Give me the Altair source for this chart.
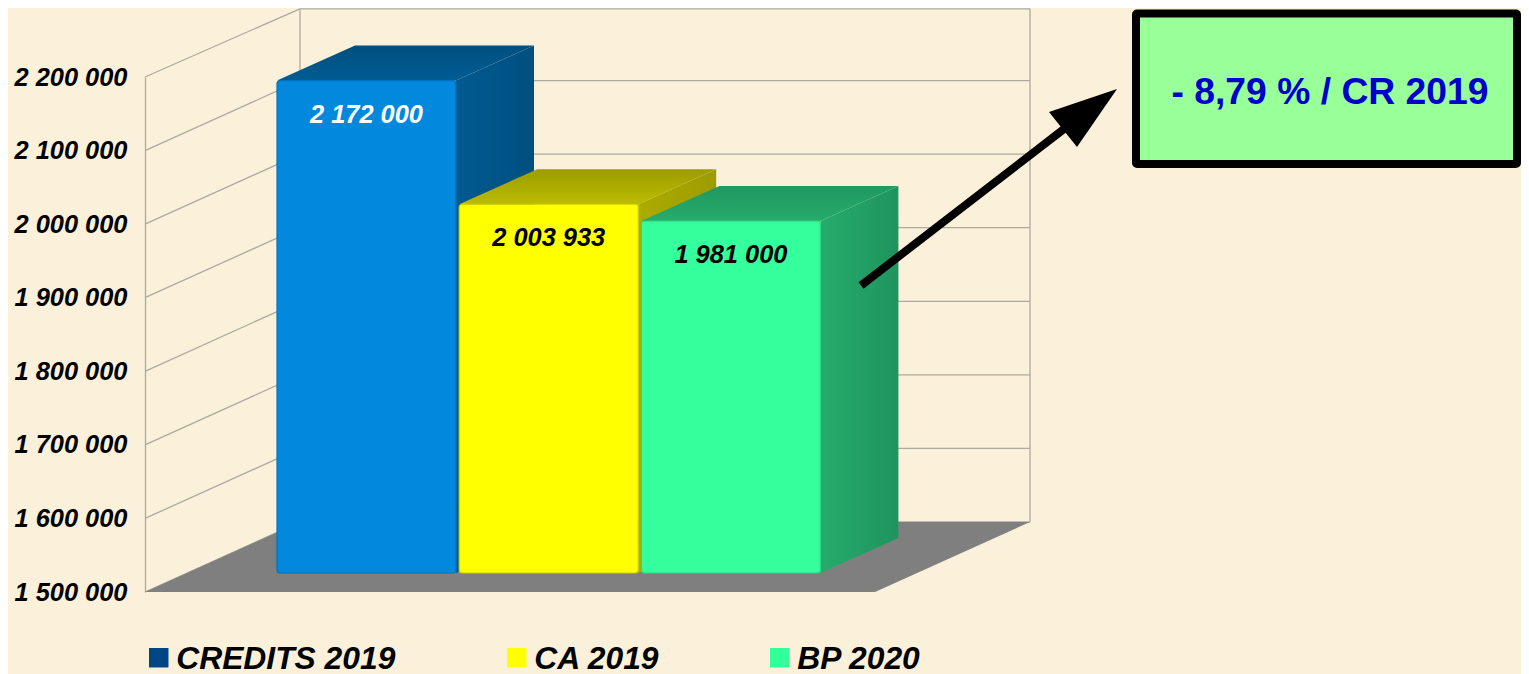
import altair as alt

CATEGORIES = ["CREDITS 2019", "CA 2019", "BP 2020"]
VALUES = [2172000, 2003933, 1981000]
VALUE_LABELS = ["2 172 000", "2 003 933", "1 981 000"]
AXIS_TICKS = [1500000, 1600000, 1700000, 1800000, 1900000, 2000000, 2100000, 2200000]
CALLOUT = "- 8,79 % / CR 2019"

FRONT = ["#0288DC", "#FFFF00", "#35FF9C"]
LEGEND = ["#004586", "#FFFF00", "#33FF99"]
SIDE_A = ["#005A90", "#ABAB00", "#26AC6C"]
SIDE_B = ["#004F80", "#9C9C00", "#1F945E"]
TOP_A = ["#005C93", "#BBBB00", "#26AC6C"]
TOP_B = ["#00507F", "#9C9C00", "#219860"]
EDGE = ["#0272BC", "#D0D000", "#2CD884"]
LABEL_COL = ["#FFFFFF", "#000000", "#000000"]
BG = "#FBF1DA"
GRID = "#ADA9A0"
FONT = "Liberation Sans"

# Geometry is written in picture pixels; the page margin is 8px.
MARGIN = 8
PL, PT, PH = 145, 77, 515
PW = 1529 - MARGIN - PL
VMIN, VMAX = AXIS_TICKS[0], AXIS_TICKS[-1]
K = PH / (VMAX - VMIN)


def v(py):
    return VMIN + (PT + PH - py) / K


def px(val):
    return PT + PH - (val - VMIN) * K


AX = alt.Axis(
    values=AXIS_TICKS,
    title=None,
    grid=False,
    ticks=False,
    domain=True,
    domainColor=GRID,
    domainWidth=1.3,
    labelFont=FONT,
    labelFontSize=25.4,
    labelFontWeight="bold",
    labelFontStyle="italic",
    labelColor="#000000",
    labelPadding=18,
    labelExpr="replace(format(datum.value, ','), regexp(',', 'g'), ' ')",
)
xs = alt.Scale(domain=[PL, PL + PW], nice=False, zero=False)
ys = alt.Scale(domain=[VMIN, VMAX], nice=False, zero=False)
X = alt.X("x:Q", scale=xs, axis=None)
X2 = alt.X2("x2:Q")
Y = alt.Y("y:Q", scale=ys, axis=AX)
Y2 = alt.Y2("y2:Q")


def d(rows):
    return alt.Data(values=rows)


def grad(a, b, horizontal):
    stops = [alt.GradientStop(color=a, offset=0), alt.GradientStop(color=b, offset=1)]
    if horizontal:
        return alt.LinearGradient(gradient="linear", stops=stops, x1=0, x2=1, y1=0, y2=0)
    return alt.LinearGradient(gradient="linear", stops=stops, x1=0, x2=0, y1=1, y2=0)


layers = []

# walls
WALL_DX, WALL_DY = 155, 70
RIGHT = 875
WALL_TOP = MARGIN + 0.8
rules = []
for t in AXIS_TICKS:
    back = max(px(t) - WALL_DY, WALL_TOP)
    rules.append({"x": PL, "x2": PL + WALL_DX, "y": t, "y2": v(back)})
    rules.append({"x": PL + WALL_DX, "x2": RIGHT + WALL_DX, "y": v(back), "y2": v(back)})
rules.append({"x": PL + WALL_DX, "x2": PL + WALL_DX, "y": v(px(VMIN) - WALL_DY), "y2": v(WALL_TOP)})
rules.append({"x": RIGHT + WALL_DX, "x2": RIGHT + WALL_DX, "y": v(px(VMIN) - WALL_DY), "y2": v(WALL_TOP)})
layers.append(alt.Chart(d(rules)).mark_rule(color=GRID, strokeWidth=1.3).encode(x=X, x2=X2, y=Y, y2=Y2))

# floor
layers.append(alt.Chart(d([
    {"y": v(592), "x": PL, "x2": RIGHT},
    {"y": v(592 - WALL_DY), "x": PL + WALL_DX, "x2": RIGHT + WALL_DX},
])).mark_area(orient="horizontal", color="#7F7F7F").encode(x=X, x2=X2, y=Y))

# bars
BAR_W, BAR_GAP, BAR_X0 = 179, 3.2, 277
BASE_PX, TOP_BASE_PX = 573, 575
DEPTH_X, DEPTH_Y = 78, 35
for i, (val, lab) in enumerate(zip(VALUES, VALUE_LABELS)):
    xl = BAR_X0 + i * (BAR_W + BAR_GAP)
    xr = xl + BAR_W
    top = TOP_BASE_PX - (val - VMIN) * K
    side = alt.Chart(d([
        {"x": xr, "y": v(BASE_PX), "y2": v(top)},
        {"x": xr + DEPTH_X, "y": v(BASE_PX - DEPTH_Y), "y2": v(top - DEPTH_Y)},
    ])).mark_area(color=grad(SIDE_A[i], SIDE_B[i], True)).encode(x=X, y=Y, y2=Y2)
    topface = alt.Chart(d([
        {"y": v(top), "x": xl, "x2": xr},
        {"y": v(top - DEPTH_Y), "x": xl + DEPTH_X, "x2": xr + DEPTH_X},
    ])).mark_area(orient="horizontal", color=grad(TOP_A[i], TOP_B[i], False)).encode(x=X, x2=X2, y=Y)
    front = alt.Chart(d([
        {"x": xl, "x2": xr, "y": v(BASE_PX), "y2": v(top), "c": CATEGORIES[i]},
    ])).mark_rect(color=FRONT[i], stroke=EDGE[i], strokeWidth=1.2, cornerRadius=3).encode(x=X, x2=X2, y=Y, y2=Y2)
    text = alt.Chart(d([
        {"x": xl + BAR_W / 2, "y": v(top + 34), "t": lab},
    ])).mark_text(
        font=FONT, fontSize=25.4, fontWeight="bold", fontStyle="italic",
        color=LABEL_COL[i], align="center", baseline="middle",
    ).encode(x=X, y=Y, text="t:N")
    layers += [side, topface, front, text]

# legend
LEG_X = [149, 507, 770]
for i, cat in enumerate(CATEGORIES):
    sw = alt.Chart(d([
        {"x": LEG_X[i], "x2": LEG_X[i] + 19.5, "y": v(667.5), "y2": v(648)},
    ])).mark_rect(color=LEGEND[i]).encode(x=X, x2=X2, y=Y, y2=Y2)
    tx = alt.Chart(d([{"x": LEG_X[i] + 27.2, "y": v(668.5), "t": cat}])).mark_text(
        font=FONT, fontSize=31.8, fontWeight="bold", fontStyle="italic",
        color="#000000", align="left", baseline="alphabetic",
    ).encode(x=X, y=Y, text="t:N")
    layers += [sw, tx]

# arrow
shaft = alt.Chart(d([
    {"x": 861, "y": v(285.5)},
    {"x": 1064, "y": v(129)},
])).mark_line(color="#000000", strokeWidth=8).encode(x=X, y=Y)
head = alt.Chart(d([
    {"x": 1049, "y": v(112), "y2": v(112)},
    {"x": 1077, "y": v(147), "y2": v(102.5)},
    {"x": 1117, "y": v(89), "y2": v(89)},
])).mark_area(color="#000000").encode(x=X, y=Y, y2=Y2)
layers += [shaft, head]

# callout
box = alt.Chart(d([
    {"x": 1136, "x2": 1517, "y": v(164), "y2": v(13.5)},
])).mark_rect(color="#99FF99", stroke="#000000", strokeWidth=8, cornerRadius=1).encode(x=X, x2=X2, y=Y, y2=Y2)
boxtext = alt.Chart(d([{"x": 1330, "y": v(93), "t": CALLOUT}])).mark_text(
    font=FONT, fontSize=37.3, fontWeight="bold", color="#0000CC", align="center", baseline="middle",
).encode(x=X, y=Y, text="t:N")
layers += [box, boxtext]

chart = (
    alt.layer(*layers)
    .properties(
        width=PW,
        height=PH,
        padding={"left": PL - MARGIN, "top": PT - MARGIN, "right": 0, "bottom": 674 - PT - PH},
        autosize=alt.AutoSizeParams(type="none"),
        background=BG,
    )
    .configure_view(stroke=None)
)

chart.save("out.html", embed_options={"renderer": "svg", "actions": False})
